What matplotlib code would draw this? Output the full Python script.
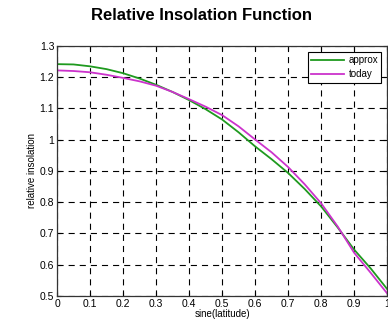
import matplotlib
matplotlib.use("Agg")
import matplotlib.pyplot as plt

x_vals = [0.0, 0.05, 0.1, 0.15, 0.2, 0.25, 0.3, 0.35, 0.4, 0.45, 0.5, 0.55, 0.6, 0.65, 0.7, 0.75, 0.8, 0.85, 0.9, 0.95, 1.0]
approx = [1.241, 1.240, 1.234, 1.225, 1.212, 1.195, 1.175, 1.152, 1.126, 1.097, 1.064, 1.023, 0.978, 0.937, 0.893, 0.842, 0.786, 0.719, 0.648, 0.588, 0.522]
today  = [1.221, 1.219, 1.215, 1.207, 1.197, 1.186, 1.172, 1.152, 1.129, 1.105, 1.078, 1.042, 1.000, 0.959, 0.912, 0.857, 0.796, 0.722, 0.638, 0.574, 0.508]
series_labels = ["approx", "today"]
x_ticks = [0, 0.1, 0.2, 0.3, 0.4, 0.5, 0.6, 0.7, 0.8, 0.9, 1.0]
x_ticklabels = ["0", "0.1", "0.2", "0.3", "0.4", "0.5", "0.6", "0.7", "0.8", "0.9", "1"]
y_ticks = [0.5, 0.6, 0.7, 0.8, 0.9, 1.0, 1.1, 1.2, 1.3]
y_ticklabels = ["0.5", "0.6", "0.7", "0.8", "0.9", "1", "1.1", "1.2", "1.3"]

plt.rcParams['font.family'] = ['Liberation Sans', 'DejaVu Sans']

fig = plt.figure(figsize=(3.88, 3.23), dpi=100)
ax = fig.add_axes([0.147, 0.0836, 0.851, 0.775])
ax.plot(x_vals, approx, color='#1f9a1f', lw=1.3, label=series_labels[0])
ax.plot(x_vals, today, color='#cc33cc', lw=1.3, label=series_labels[1])
ax.set_xlim(0, 1)
ax.set_ylim(0.5, 1.3)
ax.set_xticks(x_ticks)
ax.set_xticklabels(x_ticklabels)
ax.set_yticks(y_ticks)
ax.set_yticklabels(y_ticklabels)
ax.tick_params(direction='in', top=True, right=True, labelsize=7.5, length=3, pad=2)
ax.grid(True, color='black', linestyle=(0, (5.5, 4.5)), linewidth=0.8)
for s in ax.spines.values():
    s.set_linewidth(0.9)
    s.set_color('#333333')
ax.set_xlabel('sine(latitude)', fontsize=7, labelpad=0)
ax.set_ylabel('relative insolation', fontsize=7, labelpad=2)
fig.text(0.52, 0.952, 'Relative Insolation Function', ha='center', va='center', fontsize=12, fontweight='bold')
leg = ax.legend(loc='upper right', fontsize=7, frameon=True, fancybox=False, framealpha=1,
                edgecolor='black', handlelength=3.4, borderaxespad=0.6, labelspacing=0.45,
                handletextpad=0.4, borderpad=0.35)
leg.get_frame().set_linewidth(0.8)
fig.savefig('out.png', dpi=100)
